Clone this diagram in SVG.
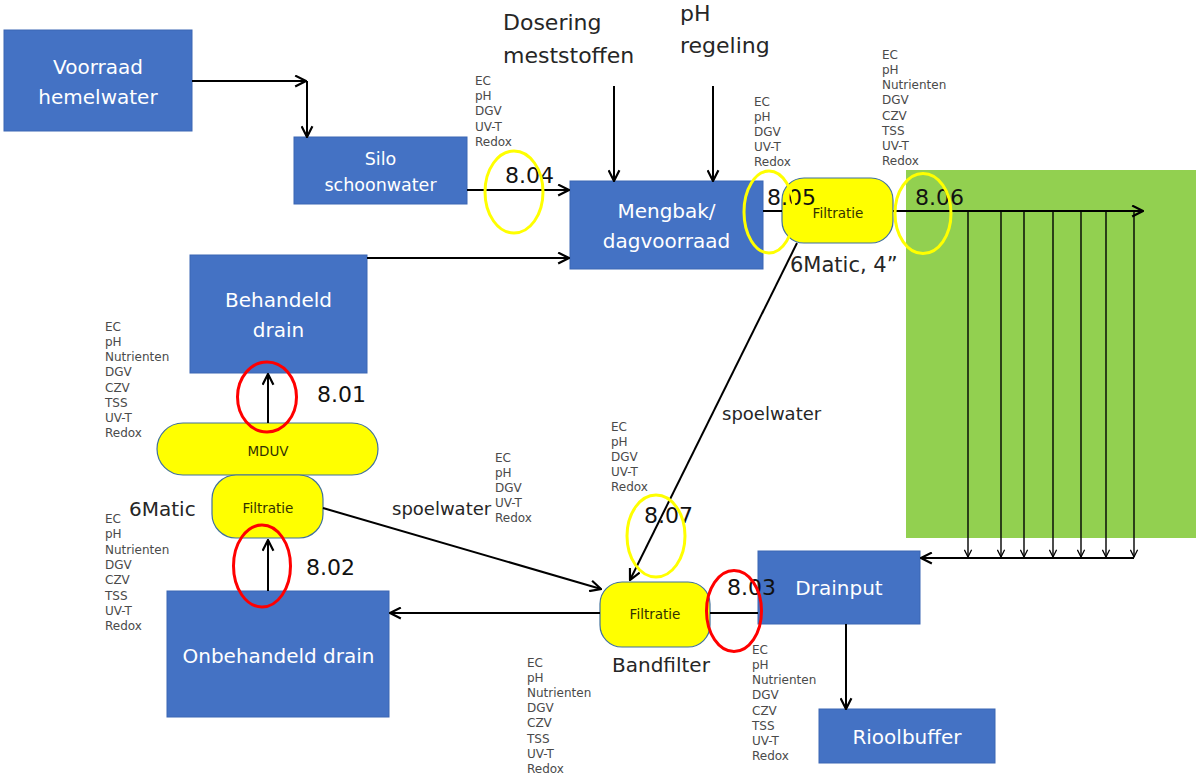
<svg xmlns="http://www.w3.org/2000/svg" width="1196" height="774" viewBox="0 0 1196 774">
<defs>
<style>
.box{fill:#4472C4;stroke:#3B66B4;stroke-width:1}
.bt{font-family:"DejaVu Sans",sans-serif;font-size:20px;fill:#FFFFFF;text-anchor:middle}
.yel{fill:#FFFF00;stroke:#41719C;stroke-width:1.2}
.yt{font-family:"DejaVu Sans",sans-serif;font-size:13.5px;fill:#333300;text-anchor:middle}
.lbl{font-family:"DejaVu Sans",sans-serif;font-size:12px;fill:#4a4a4a}
.num{font-family:"DejaVu Sans",sans-serif;font-size:22px;fill:#111111}
.big{font-family:"DejaVu Sans",sans-serif;font-size:22px;fill:#262626}
.mid{font-family:"DejaVu Sans",sans-serif;fill:#262626}
.con{stroke:#000;stroke-width:2;fill:none}
.thin{stroke:#000;stroke-width:1.4;fill:none}
.ey{fill:none;stroke:#FFFF00;stroke-width:3}
.er{fill:none;stroke:#FF0000;stroke-width:3}
</style>
<marker id="ah" viewBox="0 0 12 12" refX="11" refY="6" markerWidth="13" markerHeight="13" markerUnits="userSpaceOnUse" orient="auto">
<path d="M1,1 L11,6 L1,11" fill="none" stroke="#000" stroke-width="2"/>
</marker>
<marker id="as" viewBox="0 0 10 10" refX="9" refY="5" markerWidth="9" markerHeight="9" markerUnits="userSpaceOnUse" orient="auto">
<path d="M1,1 L9,5 L1,9" fill="none" stroke="#000" stroke-width="1.4"/>
</marker>
</defs>
<rect x="0" y="0" width="1196" height="774" fill="#FFFFFF"/>

<g id="field">
<rect x="906" y="170" width="290" height="368" fill="#92D050"/>
</g>

<g id="voorraad">
<rect class="box" x="4" y="30" width="188" height="101"/>
<text class="bt" x="98" y="74">Voorraad</text>
<text class="bt" x="98" y="104">hemelwater</text>
</g>

<g id="silo">
<rect class="box" x="294" y="137" width="173" height="67"/>
<text class="bt" style="font-size:17.5px" x="380.5" y="165">Silo</text>
<text class="bt" style="font-size:17.5px" x="380.5" y="191">schoonwater</text>
</g>

<g id="mengbak">
<rect class="box" x="570" y="181" width="193" height="88"/>
<text class="bt" x="666.5" y="218">Mengbak/</text>
<text class="bt" x="666.5" y="248">dagvoorraad</text>
</g>

<g id="behandeld">
<rect class="box" x="190" y="255" width="177" height="118"/>
<text class="bt" x="278.5" y="307">Behandeld</text>
<text class="bt" x="278.5" y="337">drain</text>
</g>

<g id="onbehandeld">
<rect class="box" x="167" y="591" width="222" height="126"/>
<text class="bt" x="278.5" y="663">Onbehandeld drain</text>
</g>

<g id="drainput">
<rect class="box" x="758" y="551" width="162" height="73"/>
<text class="bt" x="839" y="595">Drainput</text>
</g>

<g id="rioolbuffer">
<rect class="box" x="819" y="709" width="176" height="54"/>
<text class="bt" x="907" y="744">Rioolbuffer</text>
</g>

<g id="filtratie-top">
<rect class="yel" x="782" y="178" width="111" height="65" rx="22" ry="22"/>
<text class="yt" x="838" y="218">Filtratie</text>
</g>

<g id="mduv">
<rect class="yel" x="157" y="423" width="221" height="52" rx="26" ry="26"/>
<text class="yt" x="268" y="456">MDUV</text>
</g>

<g id="filtratie-left">
<rect class="yel" x="212" y="475" width="111" height="63" rx="24" ry="24"/>
<text class="yt" x="268" y="513">Filtratie</text>
</g>

<g id="bandfilter">
<rect class="yel" x="600" y="582" width="110" height="65" rx="22" ry="22"/>
<text class="yt" x="655" y="619">Filtratie</text>
</g>

<g id="connectors">
<line class="con" x1="192" y1="81" x2="306" y2="81" marker-end="url(#ah)"/>
<line class="con" x1="307" y1="81" x2="307" y2="137" marker-end="url(#ah)"/>
<line class="con" x1="467" y1="190" x2="569" y2="190" marker-end="url(#ah)"/>
<line class="con" x1="367" y1="258" x2="569" y2="258" marker-end="url(#ah)"/>
<line class="con" x1="614" y1="86" x2="614" y2="181" marker-end="url(#ah)"/>
<line class="con" x1="713" y1="86" x2="713" y2="181" marker-end="url(#ah)"/>
<line class="con" x1="763" y1="211" x2="782" y2="211"/>
<line class="con" x1="893" y1="211" x2="1143" y2="211" marker-end="url(#ah)"/>
<line class="thin" x1="968" y1="211" x2="968" y2="557" marker-end="url(#as)"/>
<line class="thin" x1="1001" y1="211" x2="1001" y2="557" marker-end="url(#as)"/>
<line class="thin" x1="1024" y1="211" x2="1024" y2="557" marker-end="url(#as)"/>
<line class="thin" x1="1053" y1="211" x2="1053" y2="557" marker-end="url(#as)"/>
<line class="thin" x1="1081" y1="211" x2="1081" y2="557" marker-end="url(#as)"/>
<line class="thin" x1="1106" y1="211" x2="1106" y2="557" marker-end="url(#as)"/>
<line class="thin" x1="1134" y1="211" x2="1134" y2="557" marker-end="url(#as)"/>
<line class="con" x1="1134" y1="558" x2="921" y2="558" marker-end="url(#ah)"/>
<line class="con" x1="846" y1="624" x2="846" y2="709" marker-end="url(#ah)"/>
<line class="con" x1="758" y1="613" x2="710" y2="613"/>
<line class="con" x1="600" y1="613" x2="390" y2="613" marker-end="url(#ah)"/>
<line class="con" x1="323" y1="508" x2="601" y2="589" marker-end="url(#ah)"/>
<line class="con" x1="797" y1="243" x2="630" y2="580" marker-end="url(#ah)"/>
<line class="con" x1="268" y1="423" x2="268" y2="374" marker-end="url(#ah)"/>
<line class="con" x1="268" y1="591" x2="268" y2="540" marker-end="url(#ah)"/>
</g>

<g id="texts">
<text class="big" x="503" y="30">Dosering</text>
<text class="big" x="503" y="63">meststoffen</text>
<text class="big" x="680" y="21">pH</text>
<text class="big" x="680" y="53">regeling</text>
<text class="mid" style="font-size:21px" x="790" y="272">6Matic, 4”</text>
<text class="mid" style="font-size:20px" x="129" y="516">6Matic</text>
<text class="mid" style="font-size:18px" x="722" y="420">spoelwater</text>
<text class="mid" style="font-size:18px" x="392" y="515">spoelwater</text>
<text class="mid" style="font-size:20px" x="612" y="672">Bandfilter</text>
</g>

<g id="labels">
<text class="lbl" x="475" y="85"><tspan x="475">EC</tspan><tspan x="475" dy="15.2">pH</tspan><tspan x="475" dy="15.2">DGV</tspan><tspan x="475" dy="15.2">UV-T</tspan><tspan x="475" dy="15.2">Redox</tspan></text>
<text class="lbl" x="754" y="106"><tspan x="754">EC</tspan><tspan x="754" dy="15">pH</tspan><tspan x="754" dy="15">DGV</tspan><tspan x="754" dy="15">UV-T</tspan><tspan x="754" dy="15">Redox</tspan></text>
<text class="lbl" x="882" y="59"><tspan x="882">EC</tspan><tspan x="882" dy="15.15">pH</tspan><tspan x="882" dy="15.15">Nutrienten</tspan><tspan x="882" dy="15.15">DGV</tspan><tspan x="882" dy="15.15">CZV</tspan><tspan x="882" dy="15.15">TSS</tspan><tspan x="882" dy="15.15">UV-T</tspan><tspan x="882" dy="15.15">Redox</tspan></text>
<text class="lbl" x="105" y="331"><tspan x="105">EC</tspan><tspan x="105" dy="15.15">pH</tspan><tspan x="105" dy="15.15">Nutrienten</tspan><tspan x="105" dy="15.15">DGV</tspan><tspan x="105" dy="15.15">CZV</tspan><tspan x="105" dy="15.15">TSS</tspan><tspan x="105" dy="15.15">UV-T</tspan><tspan x="105" dy="15.15">Redox</tspan></text>
<text class="lbl" x="105" y="523"><tspan x="105">EC</tspan><tspan x="105" dy="15.3">pH</tspan><tspan x="105" dy="15.3">Nutrienten</tspan><tspan x="105" dy="15.3">DGV</tspan><tspan x="105" dy="15.3">CZV</tspan><tspan x="105" dy="15.3">TSS</tspan><tspan x="105" dy="15.3">UV-T</tspan><tspan x="105" dy="15.3">Redox</tspan></text>
<text class="lbl" x="495" y="462"><tspan x="495">EC</tspan><tspan x="495" dy="15">pH</tspan><tspan x="495" dy="15">DGV</tspan><tspan x="495" dy="15">UV-T</tspan><tspan x="495" dy="15">Redox</tspan></text>
<text class="lbl" x="611" y="431"><tspan x="611">EC</tspan><tspan x="611" dy="15">pH</tspan><tspan x="611" dy="15">DGV</tspan><tspan x="611" dy="15">UV-T</tspan><tspan x="611" dy="15">Redox</tspan></text>
<text class="lbl" x="527" y="667"><tspan x="527">EC</tspan><tspan x="527" dy="15.1">pH</tspan><tspan x="527" dy="15.1">Nutrienten</tspan><tspan x="527" dy="15.1">DGV</tspan><tspan x="527" dy="15.1">CZV</tspan><tspan x="527" dy="15.1">TSS</tspan><tspan x="527" dy="15.1">UV-T</tspan><tspan x="527" dy="15.1">Redox</tspan></text>
<text class="lbl" x="752" y="654"><tspan x="752">EC</tspan><tspan x="752" dy="15.15">pH</tspan><tspan x="752" dy="15.15">Nutrienten</tspan><tspan x="752" dy="15.15">DGV</tspan><tspan x="752" dy="15.15">CZV</tspan><tspan x="752" dy="15.15">TSS</tspan><tspan x="752" dy="15.15">UV-T</tspan><tspan x="752" dy="15.15">Redox</tspan></text>
</g>

<g id="points">
<text class="num" x="505" y="183">8.04</text>
<text class="num" x="767" y="205">8.05</text>
<text class="num" x="915" y="205">8.06</text>
<text class="num" x="317" y="402">8.01</text>
<text class="num" x="306" y="575">8.02</text>
<text class="num" x="644" y="523">8.07</text>
<text class="num" x="727" y="595">8.03</text>
<ellipse class="ey" cx="514" cy="192" rx="29" ry="41"/>
<ellipse class="ey" cx="769" cy="212" rx="25" ry="41"/>
<ellipse class="ey" cx="923" cy="213.5" rx="28" ry="40"/>
<ellipse class="ey" cx="656" cy="536" rx="29" ry="41"/>
<ellipse class="er" cx="267" cy="397" rx="29.5" ry="35"/>
<ellipse class="er" cx="262" cy="566" rx="28.5" ry="41"/>
<ellipse class="er" cx="734" cy="611" rx="27.5" ry="40.5"/>
</g>
</svg>
